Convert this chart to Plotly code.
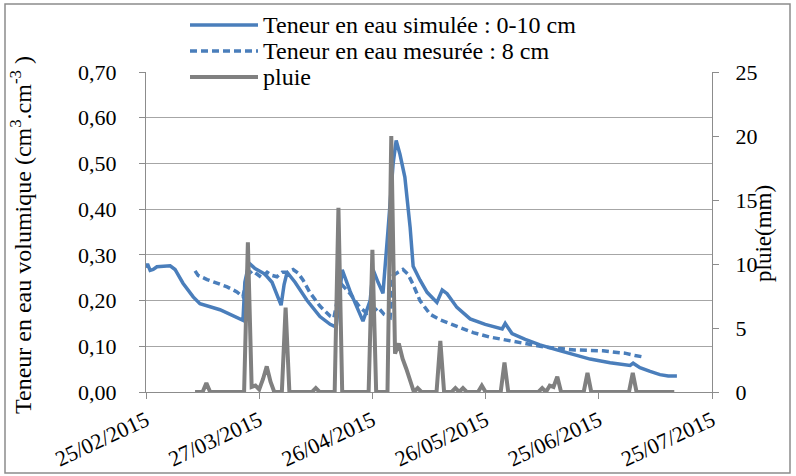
import pandas as pd
import plotly.graph_objects as go

START = pd.Timestamp("2015-02-25")

# Simulated soil water content 0-10 cm (days since 25/02/2015, cm3/cm3)
sim_days = [0, 0.4, 1.1, 1.9, 2.9, 4.2, 6.4, 7.7, 9.8, 12.5, 14.3, 19.6, 24.9, 25.7,
            26.2, 27.3, 28.9, 31.5, 33.4, 35.0, 35.8, 36.6, 37.4, 39.5, 42.7, 46.1,
            48.8, 50.4, 51.2, 52.0, 54.1, 56.2, 57.5, 59.4, 60.2, 61.5, 62.8, 64.1,
            65.5, 66.3, 67.3, 68.6, 70.0, 70.8, 72.6, 74.5, 77.1, 78.5, 79.8, 82.4,
            85.9, 89.9, 94.4, 95.2, 97.0, 100.5, 104.4, 108.9, 113.2, 117.7, 123.0,
            128.3, 129.1, 130.9, 133.6, 136.2, 138.4, 140.7]
sim_vals = [0.272, 0.280, 0.266, 0.268, 0.274, 0.275, 0.276, 0.268, 0.238, 0.208, 0.193,
            0.180, 0.159, 0.157, 0.240, 0.282, 0.270, 0.258, 0.240, 0.205, 0.190, 0.235,
            0.262, 0.240, 0.200, 0.165, 0.148, 0.142, 0.200, 0.267, 0.220, 0.180, 0.155,
            0.200, 0.267, 0.240, 0.216, 0.350, 0.500, 0.550, 0.520, 0.470, 0.360, 0.275,
            0.245, 0.218, 0.196, 0.223, 0.215, 0.185, 0.160, 0.148, 0.138, 0.150, 0.128,
            0.115, 0.103, 0.092, 0.083, 0.072, 0.064, 0.058, 0.063, 0.053, 0.045, 0.038,
            0.035, 0.035]

# Measured soil water content at 8 cm
mes_days = [13.0, 13.8, 16.2, 18.8, 21.5, 24.1, 25.7, 26.8, 28.1, 29.4, 30.7, 32.1, 33.4,
            34.7, 36.1, 37.4, 39.0, 40.3, 41.6, 43.4, 46.1, 48.8, 49.8, 50.9, 51.9, 54.1,
            56.7, 58.6, 60.2, 61.5, 63.1, 64.7, 65.5, 66.8, 68.1, 69.4, 70.8, 72.6, 75.3,
            77.9, 80.6, 83.8, 86.7, 91.2, 95.7, 99.1, 102.6, 105.8, 109.7, 113.7, 117.7,
            121.1, 124.3, 126.9, 129.6, 131.5]
mes_vals = [0.265, 0.255, 0.246, 0.238, 0.230, 0.219, 0.208, 0.255, 0.265, 0.258, 0.250,
            0.262, 0.255, 0.252, 0.262, 0.262, 0.268, 0.260, 0.245, 0.218, 0.188, 0.166,
            0.162, 0.210, 0.235, 0.215, 0.185, 0.172, 0.175, 0.185, 0.170, 0.163, 0.255,
            0.262, 0.268, 0.258, 0.235, 0.200, 0.170, 0.158, 0.150, 0.140, 0.130, 0.120,
            0.113, 0.108, 0.103, 0.098, 0.095, 0.092, 0.091, 0.090, 0.087, 0.085, 0.080,
            0.077]

# Daily rainfall (mm), from day 13 to day 140 after 25/02/2015
rain_start_day = 13
rain_mm = [
    0, 0, 0, 0.7, 0, 0, 0, 0, 0, 0,            # d13-22
    0, 0, 0, 0, 11.7, 0.4, 0.5, 0.2, 1.0, 2.0,  # d23-32
    0.8, 0, 0, 0, 6.6, 0, 0, 0, 0, 0,           # d33-42
    0, 0, 0.3, 0, 0, 0, 0, 0, 14.4, 0,          # d43-52
    0, 0, 0, 0, 0, 0, 0, 11.1, 0, 0,            # d53-62
    0, 0, 20.0, 3.0, 3.8, 2.6, 1.8, 0.9, 0, 0.3,  # d63-72
    0, 0, 0, 0, 0, 4.0, 0, 0, 0, 0.3,           # d73-82
    0, 0.3, 0, 0, 0, 0, 0.5, 0, 0, 0,           # d83-92
    0, 0, 2.3, 0, 0, 0, 0, 0, 0, 0,             # d93-102
    0, 0, 0.3, 0, 0.5, 0.4, 1.2, 0, 0, 0,       # d103-112
    0, 0, 0, 0, 1.5, 0, 0, 0, 0, 0,             # d113-122
    0, 0, 0, 0, 0, 0, 1.5, 0, 0, 0,             # d123-132
    0, 0, 0, 0, 0, 0, 0, 0,                     # d133-140
]

series_names = ["Teneur en eau simulée : 0-10 cm", "Teneur en eau mesurée : 8 cm", "pluie"]
x_tick_dates = ["2015-02-25", "2015-03-27", "2015-04-26", "2015-05-26", "2015-06-25", "2015-07-25"]
x_tick_labels = ["25/02/2015", "27/03/2015", "26/04/2015", "26/05/2015", "25/06/2015", "25/07/2015"]
y1_ticks = [0, 0.1, 0.2, 0.3, 0.4, 0.5, 0.6, 0.7]
y1_labels = ["0,00", "0,10", "0,20", "0,30", "0,40", "0,50", "0,60", "0,70"]
y2_ticks = [0, 5, 10, 15, 20, 25]

to_dates = lambda days: START + pd.to_timedelta(pd.Series(days, dtype=float), unit="D")
sim_x = to_dates(sim_days)
mes_x = to_dates(mes_days)
rain_x = to_dates([rain_start_day + i for i in range(len(rain_mm))])

BLUE = "#4a7ebb"
GREY = "#808080"
FONT = "'Liberation Serif', 'Times New Roman', Times, 'DejaVu Serif', serif"
styles = [dict(color=BLUE, width=3.5), dict(color=BLUE, width=3.5, dash="7px,4px"),
          dict(color=GREY, width=4)]

fig = go.Figure()
fig.add_trace(go.Scatter(x=sim_x, y=sim_vals, mode="lines", name=series_names[0],
                         line=styles[0], showlegend=False))
fig.add_trace(go.Scatter(x=mes_x, y=mes_vals, mode="lines", name=series_names[1],
                         line=styles[1], showlegend=False))
fig.add_trace(go.Scatter(x=rain_x, y=rain_mm, mode="lines", name=series_names[2], yaxis="y2",
                         line=styles[2], showlegend=False))

W, H = 796, 476
L, R, T, B = 146, 84, 72, 84
pw, ph = W - L - R, H - T - B
px = lambda x: (x - L) / pw
py = lambda y: (H - B - y) / ph

AX = dict(showline=True, linecolor="#8c8c8c", linewidth=1.3, ticks="outside", ticklen=6,
          tickcolor="#8c8c8c", zeroline=False, automargin=False,
          tickfont=dict(family=FONT, size=22, color="black"))

shapes = [
    dict(type="rect", xref="paper", yref="paper", x0=px(167), x1=px(695), y0=py(76), y1=py(66),
         fillcolor="white", line=dict(width=0), layer="above"),
    dict(type="rect", xref="paper", yref="paper", x0=px(5), x1=px(790), y0=py(473), y1=py(4),
         fillcolor="rgba(0,0,0,0)", line=dict(color="#8c8c8c", width=1.5), layer="above"),
]
annotations = [
    dict(text="Teneur en eau volumique (cm<sup>3</sup>.cm<sup>-3</sup> )", xref="paper", yref="paper",
         x=px(21), y=py(235), xanchor="center", yanchor="middle", textangle=-90, showarrow=False,
         font=dict(family=FONT, size=24, color="black")),
    dict(text="pluie(mm)", xref="paper", yref="paper",
         x=px(763), y=py(234), xanchor="center", yanchor="middle", textangle=-90, showarrow=False,
         font=dict(family=FONT, size=23, color="black")),
]
# legend drawn as line samples + text
legend_rows = [25, 51, 77]
for name, st, yr in zip(series_names, styles, legend_rows):
    shapes.append(dict(type="line", xref="paper", yref="paper", x0=px(190), x1=px(258),
                       y0=py(yr), y1=py(yr), line=st, layer="above"))
    annotations.append(dict(text=name, xref="paper", yref="paper", x=px(261), y=py(yr),
                            xanchor="left", yanchor="middle", showarrow=False,
                            font=dict(family=FONT, size=24, color="black")))

fig.update_layout(
    width=W, height=H, autosize=False,
    margin=dict(l=L, r=R, t=T, b=B, autoexpand=False),
    paper_bgcolor="white", plot_bgcolor="white",
    font=dict(family=FONT, size=22, color="black"),
    showlegend=False,
    xaxis=dict(type="date", range=["2015-02-25", "2015-07-25"],
               tickvals=x_tick_dates, ticktext=x_tick_labels, tickangle=-25,
               showgrid=False, **AX),
    yaxis=dict(range=[0, 0.7], tickvals=y1_ticks, ticktext=y1_labels,
               showgrid=True, gridcolor="#a6a6a6", gridwidth=1.2,
               ticklabelstandoff=18, **AX),
    yaxis2=dict(range=[0, 25], tickvals=y2_ticks, overlaying="y", side="right",
                showgrid=False, ticklabelstandoff=12, **AX),
    shapes=shapes,
    annotations=annotations,
)

fig.write_html("out.html", config={"displayModeBar": False},
               post_script="document.body.style.margin='0';document.body.style.padding='0';")
